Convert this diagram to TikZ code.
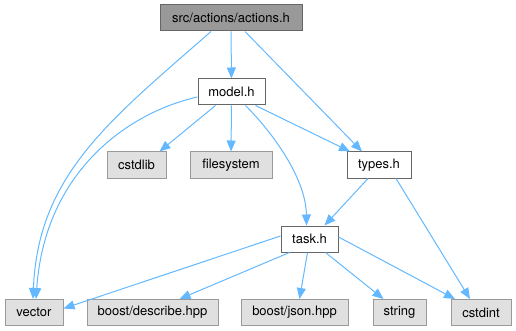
\documentclass[tikz,border=0pt]{standalone}
\usepackage{fontspec}
\setmainfont{TeX Gyre Heros}
\usetikzlibrary{arrows.meta}
\definecolor{edgec}{HTML}{63B8FF}
\definecolor{boxd}{HTML}{666666}
\definecolor{boxg}{HTML}{999999}
\definecolor{fillg}{HTML}{E0E0E0}
\definecolor{filltop}{HTML}{999999}
\tikzset{
  base/.style={rectangle, draw, line width=1pt, minimum height=26pt, inner sep=0pt,
    font=\fontsize{13}{15}\selectfont, text=black},
  topbox/.style={base, draw=boxd, fill=filltop},
  whitebox/.style={base, draw=boxd, fill=white},
  graybox/.style={base, draw=boxg, fill=fillg},
  dep/.style={draw=edgec, line width=1pt, -{Triangle[length=11pt,width=9pt]}, fill=none},
}
\begin{document}
\begin{tikzpicture}[x=1pt,y=-1pt]
\useasboundingbox (0,0) rectangle (516,331);
\node[topbox, minimum width=142pt] (act) at (231,18) {src/actions/actions.h};
\node[whitebox, minimum width=67pt] (model) at (231.5,92) {model.h};
\node[graybox, minimum width=59pt] (cstdlib) at (136.5,165) {cstdlib};
\node[graybox, minimum width=82pt] (fs) at (231,165) {filesystem};
\node[whitebox, minimum width=64pt] (types) at (379,165) {types.h};
\node[whitebox, minimum width=57pt] (task) at (309.5,239) {task.h};
\node[graybox, minimum width=58pt] (vector) at (34,312.5) {vector};
\node[graybox, minimum width=131pt] (describe) at (152.5,312.5) {boost/describe.hpp};
\node[graybox, minimum width=107pt] (json) at (294.5,312.5) {boost/json.hpp};
\node[graybox, minimum width=53pt] (string) at (399.5,312.5) {string};
\node[graybox, minimum width=60pt] (cstdint) at (481,312.5) {cstdint};

\draw[dep] (act) -- (model);
\draw[dep] ([xshift=14pt]act.south) -- ([xshift=-17pt]types.north);
\draw[dep] ([xshift=-20pt]act.south) .. controls (110,120) and (38,175) .. ([xshift=-1pt]vector.north);
\draw[dep] ([yshift=-5pt]model.west) .. controls (130,112) and (45,170) .. ([xshift=2pt]vector.north);
\draw[dep] ([xshift=-16pt]model.south) -- ([xshift=23pt]cstdlib.north);
\draw[dep] (model) -- (fs);
\draw[dep] ([xshift=24pt]model.south) -- ([xshift=-29pt]types.north);
\draw[dep] ([xshift=14pt]model.south) .. controls (275,135) and (306,180) .. ([xshift=-3pt]task.north);
\draw[dep] ([xshift=-11pt]types.south) -- ([xshift=15pt]task.north);
\draw[dep] ([xshift=17pt]types.south) -- ([xshift=-11pt]cstdint.north);
\draw[dep] ([yshift=3pt]task.west) -- ([yshift=4pt]vector.east);
\draw[dep] ([xshift=-20pt]task.south) -- ([xshift=27pt]describe.north);
\draw[dep] ([xshift=-2pt]task.south) -- ([xshift=5pt]json.north);
\draw[dep] ([xshift=16pt]task.south) -- ([xshift=-16pt]string.north);
\draw[dep] ([yshift=2pt]task.east) -- ([xshift=-26pt]cstdint.north);
\end{tikzpicture}
\end{document}
